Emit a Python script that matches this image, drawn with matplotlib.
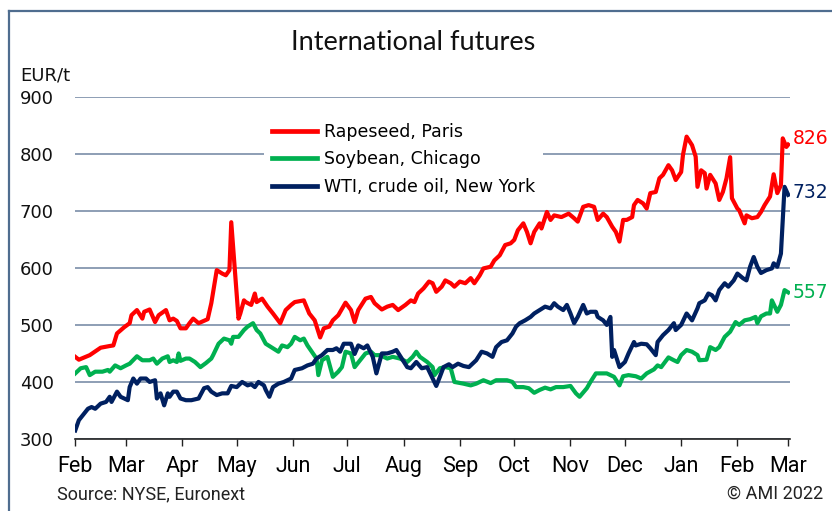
import numpy as np
import pandas as pd
import matplotlib
matplotlib.use("Agg")
import matplotlib.pyplot as plt
from matplotlib.lines import Line2D

# days since 1 Feb 2021, price in EUR/t
rape_days = [0, 2, 8, 14, 19, 21, 23, 27, 30, 31, 34, 37, 38, 41, 44, 46, 50, 52, 54, 56,
             58, 61, 63, 65, 68, 73, 75, 78, 81, 83, 85, 86, 90, 91, 93, 94, 97, 99, 100, 103,
             106, 109, 113, 116, 119, 121, 126, 129, 132, 135, 137, 140, 142, 145, 149, 152, 154, 156, 160, 163,
             165, 169, 172, 175, 178, 182, 185, 187, 189, 192, 195, 197, 199, 202, 204, 207, 209, 212, 215, 218,
             220, 223, 225, 229, 231, 234, 237, 240, 242, 244, 247, 249, 251, 253, 256, 257, 260, 262, 264, 268,
             272, 275, 277, 280, 283, 286, 288, 291, 293, 296, 298, 300, 302, 304, 307, 308, 310, 313, 315, 317,
             320, 322, 324, 327, 329, 331, 334, 335, 337, 340, 342, 343, 345, 347, 348, 350, 353, 355, 357, 359,
             361, 362, 365, 366, 369, 370, 373, 376, 378, 380, 383, 385, 387, 389, 390, 392, 393]
rape_vals = [444, 439, 447, 460, 463, 464, 485, 496, 503, 517, 526, 511, 523, 527, 505, 517, 526, 508, 511, 507,
             494, 494, 503, 511, 503, 510, 538, 596, 590, 587, 596, 680, 511, 520, 543, 540, 535, 555, 540, 546,
             532, 520, 503, 526, 535, 540, 543, 520, 508, 478, 494, 497, 508, 517, 539, 526, 505, 526, 546, 549,
             538, 527, 532, 535, 526, 535, 543, 540, 555, 564, 576, 573, 558, 567, 578, 573, 567, 576, 573, 582,
             573, 587, 599, 602, 613, 622, 640, 643, 649, 666, 678, 663, 643, 663, 678, 669, 698, 684, 692, 689,
             695, 687, 681, 707, 710, 707, 684, 695, 689, 672, 663, 646, 684, 684, 689, 710, 719, 713, 704, 731,
             733, 757, 763, 780, 771, 754, 768, 798, 830, 815, 795, 742, 771, 766, 739, 763, 748, 719, 733, 757,
             794, 722, 704, 701, 678, 692, 687, 689, 698, 710, 725, 764, 731, 745, 827, 812, 816]

soy_days = [0, 3, 6, 8, 11, 15, 18, 19, 22, 25, 28, 30, 34, 37, 41, 43, 45, 48, 51, 52,
            54, 56, 57, 58, 61, 63, 66, 69, 72, 75, 76, 79, 82, 85, 86, 87, 90, 93, 95, 98,
            100, 102, 105, 108, 112, 114, 117, 119, 121, 124, 126, 128, 131, 133, 134, 136, 139, 142, 145, 147,
            149, 152, 154, 157, 160, 163, 165, 168, 172, 175, 179, 183, 186, 188, 190, 194, 197, 198, 201, 204,
            207, 209, 214, 218, 221, 225, 229, 232, 238, 241, 243, 247, 250, 253, 256, 259, 262, 265, 269, 273,
            276, 278, 282, 284, 287, 293, 297, 300, 302, 305, 309, 312, 315, 319, 321, 323, 327, 330, 332, 334,
            337, 340, 343, 344, 348, 350, 353, 355, 358, 361, 364, 366, 369, 372, 375, 376, 378, 381, 383, 384,
            387, 389, 391, 393]
soy_vals = [415, 424, 426, 412, 418, 418, 421, 418, 429, 424, 429, 432, 445, 438, 438, 441, 432, 441, 445, 435,
            438, 435, 450, 437, 441, 441, 435, 426, 433, 441, 447, 467, 476, 473, 467, 479, 479, 491, 497, 503,
            491, 485, 467, 461, 453, 464, 461, 467, 479, 473, 476, 464, 450, 441, 412, 438, 444, 409, 418, 426,
            453, 450, 426, 438, 450, 453, 447, 447, 441, 444, 441, 435, 444, 453, 444, 435, 426, 412, 424, 426,
            424, 400, 397, 394, 397, 403, 398, 403, 403, 400, 391, 391, 389, 381, 386, 390, 387, 391, 391, 393,
            380, 374, 389, 400, 415, 415, 409, 394, 410, 412, 410, 406, 415, 422, 429, 426, 443, 438, 435, 447,
            456, 453, 447, 438, 439, 461, 456, 461, 479, 488, 505, 500, 508, 510, 514, 503, 515, 520, 520, 543,
            523, 535, 561, 557]

wti_days = [0, 2, 5, 7, 9, 11, 14, 17, 19, 20, 23, 25, 27, 29, 30, 32, 34, 36, 39, 41,
            44, 45, 47, 49, 51, 52, 54, 56, 58, 61, 64, 68, 71, 73, 75, 78, 81, 84, 86, 89,
            92, 95, 97, 99, 101, 104, 105, 107, 109, 112, 115, 119, 121, 125, 128, 131, 133, 136, 139, 142,
            144, 146, 148, 152, 154, 156, 159, 161, 164, 166, 169, 172, 175, 177, 180, 183, 185, 188, 191, 194,
            197, 199, 201, 203, 206, 208, 211, 214, 217, 219, 221, 224, 227, 230, 232, 235, 238, 241, 243, 245,
            248, 251, 253, 256, 259, 262, 264, 266, 269, 271, 273, 275, 277, 280, 282, 284, 287, 288, 291, 293,
            295, 296, 297, 300, 303, 305, 308, 309, 312, 315, 317, 320, 321, 324, 327, 330, 331, 334, 337, 340,
            343, 344, 347, 349, 351, 353, 355, 358, 360, 363, 365, 368, 370, 372, 374, 376, 378, 381, 384, 385,
            387, 389, 390, 391, 393]
wti_vals = [315, 333, 345, 353, 356, 353, 362, 365, 374, 365, 383, 374, 371, 368, 391, 406, 397, 406, 406, 400,
            403, 371, 380, 359, 380, 374, 383, 383, 371, 368, 368, 371, 389, 391, 383, 377, 380, 380, 393, 391,
            400, 394, 396, 391, 400, 394, 386, 374, 391, 397, 400, 406, 421, 424, 429, 432, 441, 447, 456, 456,
            459, 453, 467, 467, 449, 464, 459, 464, 444, 415, 450, 450, 453, 456, 441, 426, 424, 435, 424, 426,
            406, 393, 409, 426, 431, 426, 432, 428, 426, 432, 438, 453, 450, 444, 461, 470, 473, 485, 497, 503,
            508, 514, 520, 526, 532, 529, 538, 532, 526, 535, 520, 503, 514, 535, 520, 523, 523, 514, 508, 500,
            514, 444, 456, 426, 435, 450, 470, 464, 467, 466, 459, 447, 470, 482, 491, 503, 491, 500, 520, 508,
            529, 538, 543, 555, 552, 543, 561, 573, 567, 578, 590, 582, 578, 602, 619, 602, 591, 596, 599, 608,
            602, 625, 684, 742, 728]

labels = ["Rapeseed, Paris", "Soybean, Chicago", "WTI, crude oil, New York"]
colors = ["#ff0000", "#00b050", "#002060"]
last_labels = [826, 557, 732]

start = pd.Timestamp("2021-02-01")


def to_dates(days):
    return start + pd.to_timedelta(days, unit="D")


narrow = ["Roboto", "DejaVu Sans"]

fig = plt.figure(figsize=(8.32, 5.11), dpi=100)
ax = fig.add_axes([74.7 / 832, 1 - 439 / 511, (790 - 74.7) / 832, (439 - 96.7) / 511])

lw = 3.0
l_soy, = ax.plot(to_dates(soy_days), soy_vals, color=colors[1], lw=lw, solid_joinstyle="round", zorder=3)
l_wti, = ax.plot(to_dates(wti_days), wti_vals, color=colors[2], lw=lw, solid_joinstyle="round", zorder=4)
l_rape, = ax.plot(to_dates(rape_days), rape_vals, color=colors[0], lw=lw, solid_joinstyle="round", zorder=5)

ax.set_ylim(300, 900)
ax.set_xlim(to_dates([0])[0] - pd.Timedelta(days=0.3), to_dates([394])[0])
ax.set_yticks(np.arange(300, 901, 100))
ax.grid(axis="y", color="#7a8ea8", lw=1.2)
ax.set_axisbelow(True)
for s in ["left", "right", "top"]:
    ax.spines[s].set_visible(False)
ax.spines["bottom"].set_color("#222222")
ax.spines["bottom"].set_linewidth(1.2)

months = pd.date_range("2021-02-01", "2022-03-01", freq="MS")
ax.set_xticks(months)
ax.set_xticklabels([m.strftime("%b") for m in months], family=narrow, fontsize=15.5)
ax.tick_params(axis="x", direction="out", length=5, width=1, color="#222222", pad=7)
ax.tick_params(axis="y", length=0, pad=15, labelsize=13)
for t in ax.get_yticklabels():
    t.set_color("#111111")

# end-of-line value labels
ends = [(rape_days, last_labels[0], colors[0]), (soy_days, last_labels[1], colors[1]),
        (wti_days, last_labels[2], colors[2])]
for d, v, c in ends:
    ax.text(to_dates([d[-1] + 2.5])[0], v, str(v), color=c, fontsize=13.5, va="center", ha="left",
            clip_on=False)

leg = ax.legend([l_rape, l_soy, l_wti], labels, loc="upper left", bbox_to_anchor=(0.252, 0.975),
                frameon=True, fancybox=False, framealpha=1, edgecolor="none", facecolor="white",
                fontsize=12.5, handlelength=2.6, handletextpad=0.35, labelspacing=0.55, borderpad=0.5)
for h in leg.get_lines():
    h.set_linewidth(3.4)
leg.set_zorder(6)

fig.text(413 / 832, 1 - 42 / 511, "International futures", ha="center", va="center", fontsize=19.5,
         family=["Lato", "DejaVu Sans"], color="#111111")
fig.text(20 / 832, 1 - 75 / 511, "EUR/t", ha="left", va="center", fontsize=13, color="#111111")
fig.text(57 / 832, 1 - 494 / 511, "Source: NYSE, Euronext", ha="left", va="center", fontsize=13,
         family=narrow, color="#222222")
fig.text(823 / 832, 1 - 494 / 511, "\u00a9 AMI 2022", ha="right", va="center", fontsize=13,
         family=narrow, color="#222222")

# frame around the picture
fig.add_artist(Line2D([9 / 832, 9 / 832], [0, 1 - 11 / 511], transform=fig.transFigure,
                      color="#4f6d8f", lw=1.6))
fig.add_artist(Line2D([9 / 832, 1], [1 - 11 / 511, 1 - 11 / 511], transform=fig.transFigure,
                      color="#4f6d8f", lw=1.6))

fig.savefig("out.png", dpi=100, facecolor="white")
